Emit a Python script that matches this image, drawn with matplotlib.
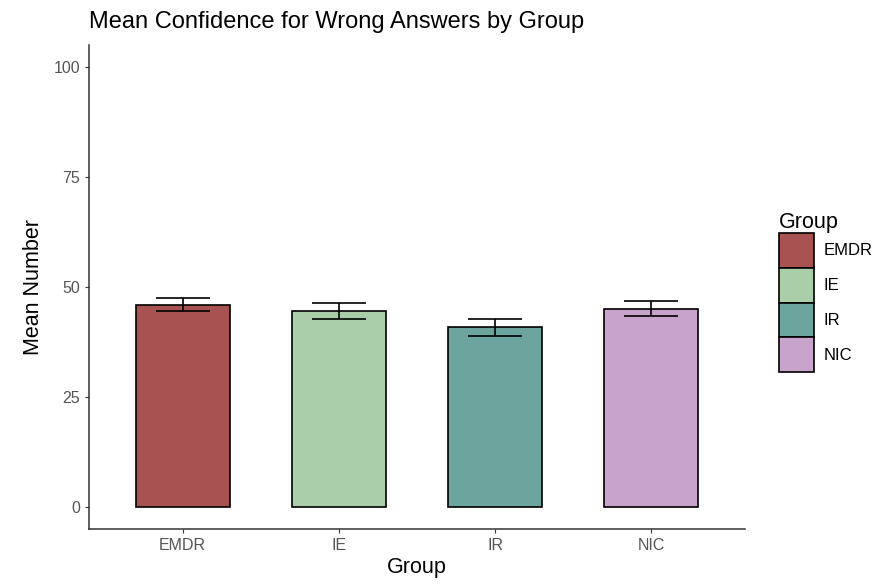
import numpy as np
import matplotlib
matplotlib.use('Agg')
import matplotlib.pyplot as plt
from matplotlib.patches import Patch

plt.rcParams['font.family'] = ['Liberation Sans', 'DejaVu Sans']

groups = ['EMDR', 'IE', 'IR', 'NIC']
means = [46.0, 44.6, 40.8, 45.0]
errs = [1.4, 1.8, 2.0, 1.7]
colors = ['#A85252', '#AACFA8', '#6CA59E', '#C8A3CB']

fig = plt.figure(figsize=(8.84, 5.84), dpi=100)
ax = fig.add_axes([0.1007, 0.0942, 0.742, 0.829])

xind = np.arange(1, len(groups) + 1)
ax.bar(xind, means, 0.6, color=colors, edgecolor='black', linewidth=1.2, zorder=2)
ax.errorbar(xind, means, yerr=errs, fmt='none', ecolor='black', elinewidth=1.2,
            capsize=19.5, capthick=1.2, zorder=3)

ax.set_xlim(0.4, 4.6)
ax.set_ylim(-5, 105)
ax.set_xticks(xind)
ax.set_xticklabels(groups)
ax.set_yticks([0, 25, 50, 75, 100])
ax.tick_params(axis='both', colors='#333333', labelcolor='#555555', labelsize=11.5,
               length=3, width=0.8)
for s in ['top', 'right']:
    ax.spines[s].set_visible(False)
for s in ['left', 'bottom']:
    ax.spines[s].set_linewidth(1.1)
    ax.spines[s].set_color('#333333')

ax.set_xlabel('Group', fontsize=15.5, labelpad=3)
ax.set_ylabel('Mean Number', fontsize=15.5, labelpad=7)
ax.set_title('Mean Confidence for Wrong Answers by Group', fontsize=17, loc='left', pad=12)

handles = [Patch(facecolor=c, edgecolor='black', linewidth=1.2) for c in colors]
leg = fig.legend(handles, groups, loc='center left', bbox_to_anchor=(0.864, 0.5),
                 frameon=False, title='Group', fontsize=12, title_fontsize=15.5,
                 handlelength=2.1, handleheight=2.85, labelspacing=0.0,
                 handletextpad=0.6, alignment='left')

fig.savefig('out.png', dpi=100)
